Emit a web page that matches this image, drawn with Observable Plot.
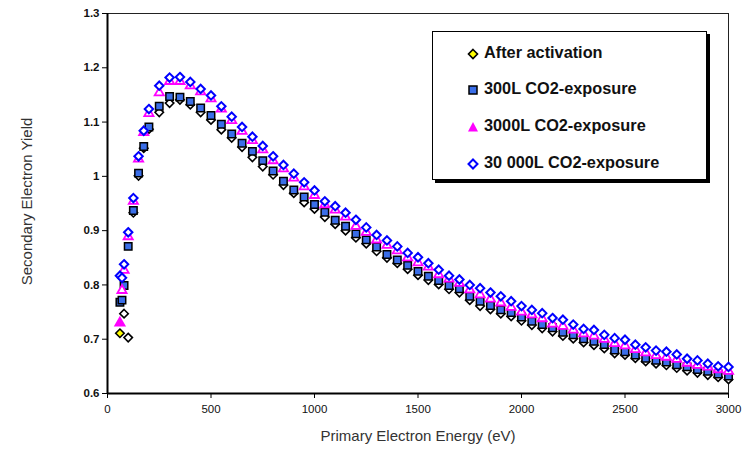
<!DOCTYPE html>
<html><head><meta charset="utf-8">
<script src="https://cdn.jsdelivr.net/npm/d3@7"></script>
<script src="https://cdn.jsdelivr.net/npm/@observablehq/plot@0.6"></script>
<style>
body{margin:0;background:#fff;}
#wrap{position:relative;width:747px;height:453px;font-family:"Liberation Sans",Arial,sans-serif;}
#legend{position:absolute;left:432px;top:31px;width:273px;height:147px;border:1px solid #000;background:#fff;box-shadow:3px 3px 0 #000;}
.mk{position:absolute;left:34px;width:12px;height:12px;}
.lt{position:absolute;left:51px;font-weight:bold;font-size:16.3px;color:#111;line-height:18px;white-space:nowrap;}
</style></head>
<body><div id="wrap"></div>
<script>
const seriesNames = ["After activation", "300L CO2-exposure", "3000L CO2-exposure", "30 000L CO2-exposure"];
const energies = [60,70,80,100,125,150,175,200,250,300,350,400,450,500,550,600,650,700,750,800,850,900,950,1000,1050,1100,1150,1200,1250,1300,1350,1400,1450,1500,1550,1600,1650,1700,1750,1800,1850,1900,1950,2000,2050,2100,2150,2200,2250,2300,2350,2400,2450,2500,2550,2600,2650,2700,2750,2800,2850,2900,2950,3000];
const afterActivation = [0.711,null,0.747,0.703,0.933,1.001,1.052,1.087,1.118,1.135,1.141,1.132,1.118,1.104,1.086,1.071,1.054,1.035,1.018,1.003,0.984,0.969,0.952,0.940,0.925,0.912,0.900,0.887,0.876,0.862,0.850,0.840,0.829,0.818,0.809,0.801,0.792,0.786,0.772,0.761,0.755,0.747,0.742,0.734,0.726,0.720,0.714,0.706,0.701,0.694,0.689,0.683,0.674,0.671,0.665,0.659,0.655,0.652,0.647,0.642,0.638,0.634,0.630,0.626];
const co2_300L = [0.768,0.772,0.799,0.871,0.937,1.006,1.055,1.091,1.129,1.147,1.146,1.138,1.126,1.112,1.096,1.078,1.061,1.046,1.029,1.010,0.991,0.975,0.962,0.948,0.934,0.919,0.908,0.894,0.883,0.870,0.856,0.846,0.836,0.825,0.816,0.808,0.799,0.793,0.779,0.770,0.762,0.754,0.749,0.741,0.733,0.727,0.721,0.713,0.708,0.701,0.696,0.690,0.680,0.677,0.671,0.665,0.661,0.658,0.653,0.649,0.644,0.641,0.636,0.632];
const co2_3000L = [0.730,0.790,0.827,0.889,0.954,1.032,1.081,1.116,1.154,1.175,1.175,1.167,1.156,1.143,1.124,1.103,1.083,1.066,1.049,1.029,1.014,0.997,0.981,0.965,0.948,0.938,0.925,0.908,0.897,0.883,0.873,0.863,0.850,0.841,0.833,0.819,0.811,0.803,0.791,0.782,0.774,0.767,0.759,0.750,0.745,0.738,0.728,0.724,0.717,0.710,0.706,0.700,0.692,0.688,0.681,0.675,0.670,0.667,0.663,0.656,0.652,0.649,0.644,0.641];
const co2_30000L = [0.817,0.813,0.838,0.897,0.960,1.037,1.084,1.124,1.167,1.182,1.183,1.174,1.161,1.149,1.129,1.110,1.091,1.073,1.056,1.037,1.021,1.005,0.989,0.974,0.954,0.945,0.933,0.920,0.906,0.892,0.882,0.871,0.859,0.851,0.840,0.828,0.817,0.810,0.800,0.794,0.786,0.779,0.770,0.761,0.754,0.748,0.739,0.736,0.727,0.719,0.717,0.708,0.702,0.699,0.690,0.685,0.679,0.677,0.672,0.664,0.661,0.655,0.650,0.649];
const xTicks = [0,500,1000,1500,2000,2500,3000];
const yTicks = [0.6,0.7,0.8,0.9,1.0,1.1,1.2,1.3];
const yTickLabels = ["0.6","0.7","0.8","0.9","1","1.1","1.2","1.3"];
const xTitle = "Primary Electron Energy (eV)";
const yTitle = "Secondary Electron Yield";

const rows = vals => energies.map((e, i) => ({e, v: vals[i], i})).filter(d => d.v != null);

const chart = Plot.plot({
  width: 747, height: 453,
  marginTop: 13, marginRight: 19, marginBottom: 60, marginLeft: 107,
  style: {fontFamily: "'Liberation Sans', Arial, sans-serif", fontSize: "11px", background: "#fff", color: "#000"},
  x: {domain: [0, 3000]},
  y: {domain: [0.6, 1.3]},
  marks: [
    Plot.frame({stroke: "#222", strokeWidth: 1}),
    Plot.axisX({ticks: xTicks, tickSize: 5, tickPadding: 6, label: null, fontSize: 11.5, fill: "#111", tickFormat: d => String(d)}),
    Plot.axisY({ticks: yTicks, tickSize: 5, tickPadding: 3, label: null, fontSize: 11.5, fontWeight: "bold", fill: "#111", tickFormat: d => yTickLabels[yTicks.indexOf(d)]}),
    Plot.ruleX([0], {stroke: "#000", strokeWidth: 2}),
    Plot.ruleY([0.6], {stroke: "#000", strokeWidth: 2}),
    Plot.text([xTitle], {frameAnchor: "bottom", dy: 47, text: d => d, fontSize: 15, fill: "#333"}),
    Plot.text([yTitle], {frameAnchor: "left", dx: -80, dy: -2, rotate: -90, textAnchor: "middle", text: d => d, fontSize: 15, fill: "#333"}),
    Plot.dot(rows(afterActivation), {x: "e", y: "v", symbol: "diamond2", r: 3.8, stroke: "#000", strokeWidth: 1.6, fill: d => d.i === 0 ? "#ffff00" : "#ffffff"}),
    Plot.dot(rows(co2_300L), {x: "e", y: "v", symbol: "square", r: 4.2, stroke: "#000", strokeWidth: 1.5, fill: "#3a6ee8"}),
    Plot.dot(rows(co2_3000L), {x: "e", y: "v", symbol: "triangle", r: 3.4, stroke: "#ff00ff", strokeWidth: 1.8, fill: d => d.i === 0 ? "#ff00ff" : "#ffffff"}),
    Plot.dot(rows(co2_30000L), {x: "e", y: "v", symbol: "diamond2", r: 3.8, stroke: "#0000ff", strokeWidth: 2, fill: "#ffffff"})
  ]
});
const wrap = document.getElementById("wrap");
wrap.appendChild(chart);

// legend
const legendMarkers = [
  '<polygon points="6,1.5 10.5,6 6,10.5 1.5,6" fill="#ffff00" stroke="#000" stroke-width="1.6"/>',
  '<rect x="2" y="2" width="8" height="8" fill="#3a6ee8" stroke="#000" stroke-width="1.5"/>',
  '<polygon points="6,1 11,10.5 1,10.5" fill="#ff00ff"/>',
  '<polygon points="6,1.5 10.5,6 6,10.5 1.5,6" fill="#fff" stroke="#0000ff" stroke-width="2"/>'
];
const rowCenters = [20, 56, 93, 130];
const lg = document.createElement("div");
lg.id = "legend";
seriesNames.forEach((name, k) => {
  const m = document.createElement("div");
  m.className = "mk"; m.style.top = (rowCenters[k] - 6) + "px";
  m.innerHTML = '<svg width="12" height="12">' + legendMarkers[k] + '</svg>';
  const t = document.createElement("div");
  t.className = "lt"; t.style.top = (rowCenters[k] - 9) + "px";
  t.textContent = name;
  lg.appendChild(m); lg.appendChild(t);
});
wrap.appendChild(lg);
</script></body></html>
